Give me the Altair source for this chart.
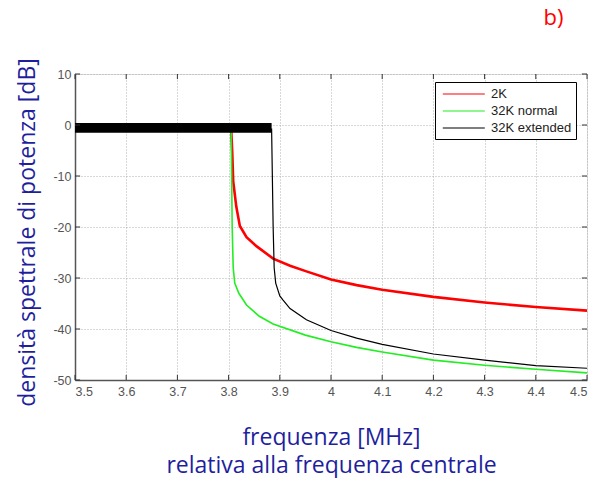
import altair as alt
import pandas as pd

series = ["2K", "32K normal", "32K extended"]
colors = ["#ff0000", "#22ee22", "#000000"]
widths = [2.6, 1.6, 1.2]

red_f = [3.5, 3.805, 3.807, 3.809, 3.815, 3.822, 3.835, 3.855, 3.887, 3.92, 3.952, 4.0, 4.05, 4.1, 4.2, 4.3, 4.4, 4.5]
red_db = [-0.8, -0.8, -5, -11, -16, -19.8, -22, -23.8, -26.2, -27.6, -28.7, -30.3, -31.4, -32.3, -33.7, -34.8, -35.7, -36.4]

green_f = [3.5, 3.805, 3.806, 3.807, 3.809, 3.812, 3.82, 3.835, 3.86, 3.887, 3.95, 4.0, 4.05, 4.1, 4.2, 4.3, 4.4, 4.5]
green_db = [-0.8, -0.8, -10, -20, -28, -31, -33, -35.3, -37.5, -39, -41.2, -42.5, -43.6, -44.5, -46.1, -47.1, -47.9, -48.6]

black_f = [3.5, 3.884, 3.887, 3.889, 3.892, 3.9, 3.906, 3.92, 3.952, 4.0, 4.05, 4.1, 4.2, 4.3, 4.4, 4.5]
black_db = [-0.8, -0.8, -20, -28, -31, -33.5, -34.3, -36, -38.2, -40.3, -41.8, -43, -44.9, -46.1, -47.2, -47.7]

# ripple band of the flat passband (drawn as a filled strip)
band_f = [3.5, 3.884]
band_db = [0.4, -1.5]

x_ticks = [3.5, 3.6, 3.7, 3.8, 3.9, 4.0, 4.1, 4.2, 4.3, 4.4, 4.5]
y_ticks = [10, 0, -10, -20, -30, -40, -50]

x_dom = [3.5, 4.5]
y_dom = [-50, 10]

title_color = "#1f1f9e"
lab_font = "Liberation Sans"
title_size = 23

frames = []
for name, f, d in [(series[0], red_f, red_db), (series[1], green_f, green_db), (series[2], black_f, black_db)]:
    frames.append(pd.DataFrame({"f": f, "db": d, "series": name}))

xs = alt.Scale(domain=x_dom, nice=False, zero=False)
ys = alt.Scale(domain=y_dom, nice=False, zero=False)
cs = alt.Scale(domain=series, range=colors)

x_axis = alt.Axis(
    values=x_ticks, format="~g", grid=True, gridDash=[1, 2], gridColor="#b0b0b0",
    ticks=False, domainColor="#555555", domainWidth=1.5, labelFont=lab_font,
    labelFontSize=12.5, labelColor="#555555", labelPadding=5,
    title=["frequenza [MHz]", "relativa alla frequenza centrale"],
    titleFont="Open Sans", titleFontSize=title_size, titleFontWeight="normal",
    titleColor=title_color, titleLineHeight=28, titleY=64, titleBaseline="alphabetic",
)
y_axis = alt.Axis(
    values=y_ticks, labelExpr="'' + datum.value", grid=True, gridDash=[1, 2],
    gridColor="#b0b0b0", ticks=False, domainColor="#555555", domainWidth=1.5,
    labelFont=lab_font, labelFontSize=12.5, labelColor="#555555", labelPadding=4,
    title="densità spettrale di potenza [dB]", titleFont="Open Sans",
    titleFontSize=title_size, titleFontWeight="normal", titleColor=title_color,
    titleX=-41, titleY=158, titleAngle=270, titleAlign="center", titleBaseline="alphabetic",
)

legend = alt.Legend(
    title=None, orient="none", legendX=360, legendY=8, strokeColor="black",
    fillColor="white", padding=4, symbolType="M-0.6,0H5.4", symbolSize=196,
    symbolStrokeWidth=1.2, labelFont=lab_font, labelFontSize=13, labelOffset=36,
    labelColor="#222222", rowPadding=2,
)

layers = []
for i, df in enumerate(frames):
    layers.append(
        alt.Chart(df).mark_line(strokeWidth=widths[i], clip=True).encode(
            x=alt.X("f:Q", scale=xs, axis=x_axis),
            y=alt.Y("db:Q", scale=ys, axis=y_axis),
            color=alt.Color("series:N", scale=cs, legend=legend),
            order=alt.Order("f:Q"),
        )
    )

band_df = pd.DataFrame({"f": [band_f[0]], "f2": [band_f[1]], "db": [band_db[0]], "db2": [band_db[1]]})
band = alt.Chart(band_df).mark_rect(color="black").encode(
    x=alt.X("f:Q", scale=xs), x2="f2:Q", y=alt.Y("db:Q", scale=ys), y2="db2:Q"
)

# inward tick marks on all four sides
tick_rows = []
for v in x_ticks:
    tick_rows.append({"x": v, "x2": v, "y": y_dom[0], "y2": y_dom[0] + 1.0})
    tick_rows.append({"x": v, "x2": v, "y": y_dom[1], "y2": y_dom[1] - 1.0})
for v in y_ticks:
    tick_rows.append({"x": x_dom[0], "x2": x_dom[0] + 0.01, "y": v, "y2": v})
    tick_rows.append({"x": x_dom[1], "x2": x_dom[1] - 0.01, "y": v, "y2": v})
ticks = alt.Chart(pd.DataFrame(tick_rows)).mark_rule(color="#333333", strokeWidth=1).encode(
    x=alt.X("x:Q", scale=xs), x2="x2:Q", y=alt.Y("y:Q", scale=ys), y2="y2:Q"
)

chart = alt.layer(layers[0], layers[1], band, layers[2], ticks).properties(
    width=512, height=306,
    title=alt.TitleParams("b)", color="red", fontSize=22, font="Open Sans",
                          fontWeight="normal", anchor="end", dx=-24, offset=43,
                          dy=32, baseline="alphabetic"),
    autosize=alt.AutoSizeParams(type="none"),
    padding={"left": 75, "top": 74, "right": 22, "bottom": 98},
).configure_view(stroke="black", strokeWidth=1).configure(background="white")

chart.save("out.html", embed_options={"renderer": "svg", "actions": False})
